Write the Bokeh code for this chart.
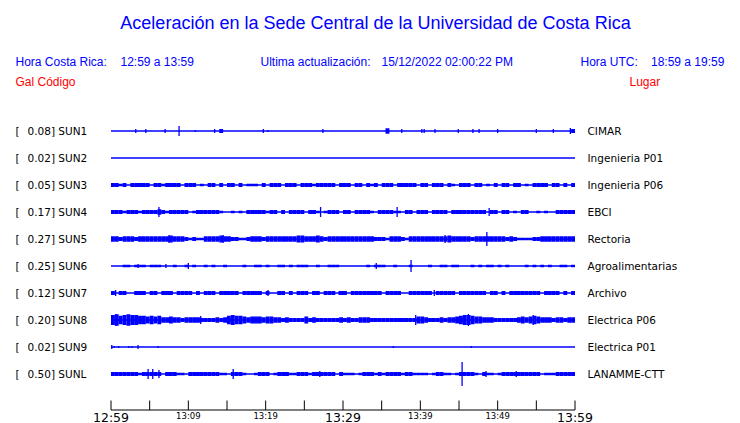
from bokeh.plotting import figure
from bokeh.models import Range1d
from bokeh.core.properties import value
from bokeh.embed import file_html
from bokeh.resources import INLINE

# ---------------- data ----------------
title_text = "Aceleración en la Sede Central de la Universidad de Costa Rica"
hora_cr_label = "Hora Costa Rica:"
hora_cr = "12:59 a 13:59"
update_label = "Ultima actualización:"
update_time = "15/12/2022 02:00:22 PM"
hora_utc_label = "Hora UTC:"
hora_utc = "18:59 a 19:59"
gal_header = "Gal"
code_header = "Código"
place_header = "Lugar"

codes = ["SUN1", "SUN2", "SUN3", "SUN4", "SUN5", "SUN6", "SUN7", "SUN8", "SUN9", "SUNL"]
gal_max = [0.08, 0.02, 0.05, 0.17, 0.27, 0.25, 0.12, 0.20, 0.02, 0.50]
places = ["CIMAR", "Ingenieria P01", "Ingenieria P06", "EBCI", "Rectoria",
          "Agroalimentarias", "Archivo", "Electrica P06", "Electrica P01", "LANAMME-CTT"]

tick_minutes = [0, 5, 10, 15, 20, 25, 30, 35, 40, 45, 50, 55, 60]
big_tick_minutes = [0, 30, 60]
big_tick_labels = ["12:59", "13:29", "13:59"]
small_tick_minutes = [10, 20, 40, 50]
small_tick_labels = ["13:09", "13:19", "13:39", "13:49"]

# amplitude envelope per half-minute (levels 0-7)
env_sun1 = "0000000000 0000000000 0000000020 0000000000 0000000000 0000000000 0000000000 0300000000 0000000000 0000000000 0000000000 0000000002"
env_sun2 = "0000000000 0000000000 0000000000 0000000000 0000000000 0000000000 0000000000 0000000000 0000000000 0000000000 0000000000 0000000000"
env_sun3 = "2212022222 0221222202 2201022020 2202011102 0222022202 2212222202 2202202120 2220222220 2202220210 2220220102 0220220102 2220220202"
env_sun4 = "2221222122 2232122222 0122222210 0101022222 1220202222 0221012220 2202222102 2221102202 2202222022 2222222022 0220102200 1010022222"
env_sun5 = "3323332333 3333343332 1211333343 3221123332 3333333344 3334323333 3333333322 2133321333 3333333433 3332333333 3323211112 2333333333"
env_sun6 = "0001101110 1110001001 0100101001 0000100110 1001101011 1001001110 0000001011 1001000100 0010011011 0001010110 1010000101 0101001101"
env_sun7 = "2022002220 2202220222 2020222022 2220222220 2002202022 2022022202 2022222222 0222200222 2220222220 2222222022 0202222222 2022220202"
env_sun8 = "6756766554 5453343323 3332222323 5655434443 4433232222 4232222223 2322333222 2222222224 4322232334 5665443332 2222234345 4333233233"
env_sun9 = "0000000000 0000000000 0000000000 0000000000 0000000000 0000000000 0000000000 0000000000 0000000000 0000000000 0000000000 0000000000"
env_sunl = "2222222122 2220222110 2222222211 0222100122 2012221122 2122222202 1110122212 1222212211 1101221101 2222102110 1222222222 2011122222"

# isolated peaks: (minute, half-height)
peaks_sun1 = [(3.2, 2), (4.5, 2), (7.0, 2), (8.8, 5), (10.9, 1), (13.4, 2), (19.7, 2), (20.3, 1),
              (27.4, 2), (37.6, 2), (40.2, 2), (40.5, 2), (41.9, 2), (44.9, 2), (46.8, 2), (47.6, 2),
              (50.0, 2), (55.0, 2), (57.2, 2), (59.4, 3)]
peaks_sun2 = []
peaks_sun3 = []
peaks_sun4 = [(6.2, 5), (27.1, 5), (37.0, 5), (48.9, 4)]
peaks_sun5 = [(7.5, 4), (14.5, 4), (43.2, 4), (48.6, 7)]
peaks_sun6 = [(3.5, 2), (7.1, 2), (10.0, 3), (34.3, 3), (38.8, 6)]
peaks_sun7 = [(0.6, 3), (20.3, 3), (29.5, 2), (41.8, 3)]
peaks_sun8 = [(0.6, 6), (11.6, 4), (39.4, 5), (46.2, 6), (54.6, 5)]
peaks_sun9 = [(0.1, 2), (0.4, 1), (1.0, 1), (2.3, 1), (2.7, 1), (3.5, 2), (6.1, 1), (36.5, 1), (46.6, 1)]
peaks_sunl = [(4.8, 5), (5.4, 5), (6.2, 4), (15.8, 5), (27.0, 3), (45.4, 12), (48.5, 3), (52.4, 3)]

envelopes = [env_sun1, env_sun2, env_sun3, env_sun4, env_sun5, env_sun6, env_sun7, env_sun8, env_sun9, env_sunl]
peaks = [peaks_sun1, peaks_sun2, peaks_sun3, peaks_sun4, peaks_sun5, peaks_sun6, peaks_sun7, peaks_sun8, peaks_sun9, peaks_sunl]

# ---------------- layout ----------------
W, H = 740, 423
PAGE_OFF = 0                 # canvas is placed at the page origin
PPM = (574 - 110) / 60.0     # pixels per minute
X0 = 110.5                   # canvas px of minute 0
ROW0 = 130.5                 # canvas px of first trace
ROW_PX = 27.0                # px between traces
DURATION = 60

BLUE = "#0000FF"
RED = "#FF0000"

p = figure(width=W, height=H,
           x_range=Range1d(-X0 / PPM, (W - X0) / PPM),
           y_range=Range1d((H - ROW0) / ROW_PX, -ROW0 / ROW_PX),
           x_axis_type=None, y_axis_type=None,
           output_backend="svg", toolbar_location=None, min_border=0)
p.outline_line_color = None
p.background_fill_color = "white"
p.border_fill_color = "white"


def px2x(page_x):
    return (page_x - PAGE_OFF - X0) / PPM


def px2y(page_y):
    return (page_y - PAGE_OFF - ROW0) / ROW_PX


def lvl(d):
    return (0.5 + 0.75 * d) / ROW_PX


# baselines
rows = list(range(len(codes)))
p.segment(x0=[0] * len(rows), x1=[DURATION] * len(rows), y0=rows, y1=rows,
          line_color=BLUE, line_width=1.5)

# envelopes
ql, qr, qt, qb = [], [], [], []
for i, env in enumerate(envelopes):
    levels = [int(c) for c in env.replace(" ", "")]
    bw = DURATION / len(levels)
    for k, d in enumerate(levels):
        if d > 0:
            h = lvl(d)
            ql.append(k * bw)
            qr.append((k + 1) * bw)
            qt.append(i - h)
            qb.append(i + h)
p.quad(left=ql, right=qr, top=qt, bottom=qb, fill_color=BLUE, line_color=None)

# peaks
sx, sy0, sy1 = [], [], []
for i, pk in enumerate(peaks):
    for m, a in pk:
        sx.append(m)
        sy0.append(i - a / ROW_PX)
        sy1.append(i + a / ROW_PX)
p.segment(x0=sx, x1=sx, y0=sy0, y1=sy1, line_color=BLUE, line_width=1.3)

# time axis
axis_y = px2y(409.5)
p.segment(x0=[0], x1=[DURATION], y0=[axis_y], y1=[axis_y], line_color="black", line_width=1)
p.segment(x0=tick_minutes, x1=tick_minutes, y0=[px2y(400)] * len(tick_minutes),
          y1=[axis_y] * len(tick_minutes), line_color="black", line_width=1)
p.text(x=big_tick_minutes, y=[px2y(416.5)] * 3, text=big_tick_labels,
       text_font=value("DejaVu Sans"), text_font_size=value("12.5px"),
       text_align="center", text_baseline="middle", text_color="black")
p.text(x=small_tick_minutes, y=[px2y(415.5)] * 4, text=small_tick_labels,
       text_font=value("DejaVu Sans"), text_font_size=value("8.5px"),
       text_align="center", text_baseline="middle", text_color="black")

# station labels
lab_font = value("DejaVu Sans")
lab_size = value("10.5px")
p.text(x=[px2x(15)] * len(rows), y=rows, text=["["] * len(rows),
       text_font=lab_font, text_font_size=lab_size, text_align="left",
       text_baseline="middle", text_color="black")
p.text(x=[px2x(27)] * len(rows), y=rows,
       text=["%.2f] %s" % (g, c) for g, c in zip(gal_max, codes)],
       text_font=lab_font, text_font_size=lab_size, text_align="left",
       text_baseline="middle", text_color="black")
p.text(x=[px2x(587)] * len(rows), y=rows, text=places,
       text_font=lab_font, text_font_size=lab_size, text_align="left",
       text_baseline="middle", text_color="black")

# header
hfont = value("Liberation Sans")
p.text(x=[px2x(375)], y=[px2y(22)], text=[title_text], text_font=hfont,
       text_font_size=value("18px"), text_align="center", text_baseline="middle",
       text_color=BLUE)
p.text(x=[px2x(15), px2x(120), px2x(260), px2x(381), px2x(580), px2x(650.5)],
       y=[px2y(61)] * 6,
       text=[hora_cr_label, hora_cr, update_label, update_time, hora_utc_label, hora_utc],
       text_font=hfont, text_font_size=value("12px"), text_align="left",
       text_baseline="middle", text_color=BLUE)
p.text(x=[px2x(15), px2x(37), px2x(629)], y=[px2y(81)] * 3,
       text=[gal_header, code_header, place_header],
       text_font=hfont, text_font_size=value("12px"), text_align="left",
       text_baseline="middle", text_color=RED)

open("out.html", "w").write(file_html(p, INLINE))
